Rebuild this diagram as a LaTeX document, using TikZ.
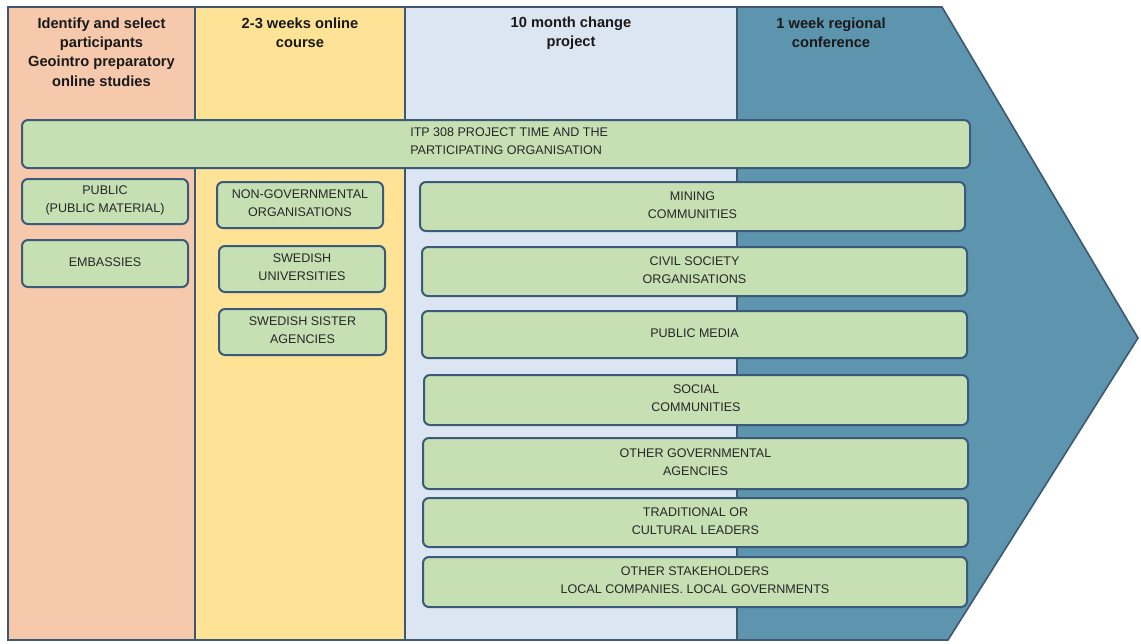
\documentclass[tikz,border=0pt]{standalone}
\usepackage{fontspec}
\setmainfont{Liberation Sans}
\definecolor{peach}{HTML}{F6C9AD}
\definecolor{ylw}{HTML}{FEE396}
\definecolor{lblue}{HTML}{DCE6F2}
\definecolor{tealc}{HTML}{5D95AE}
\definecolor{edge}{HTML}{3E5872}
\definecolor{boxfill}{HTML}{C6E0B4}
\definecolor{boxedge}{HTML}{3B5A7A}
\definecolor{txt}{HTML}{262626}
% \gbox{name}{x1}{y1}{x2}{y2}{text}
\newcommand\gbox[6]{%
  \node[gbox, minimum width={(#4-#2)*0.75pt}, minimum height={(#5-#3)*0.75pt}] (#1) at ({(#2+#4)/2},{(#3+#5)/2}) {};
  \node[boxtext] (#1t) at ([yshift=1pt]#1.center) {#6};}
\begin{document}
\begin{tikzpicture}[x=0.75pt,y=-0.75pt,
  col/.style={draw=edge, line width=1.2pt},
  gbox/.style={draw=boxedge, fill=boxfill, rounded corners=4.5pt, line width=1.5pt, inner sep=0pt},
  boxtext/.style={align=center, text=txt, inner sep=0pt, font=\fontsize{9.4}{13.5}\selectfont},
  head/.style={font=\fontsize{11}{14.5}\selectfont\bfseries, align=center, text=black!90}]
\useasboundingbox (0,0) rectangle (1141,643);
\fill[white] (0,0) rectangle (1141,643);
% columns
\draw[col, fill=tealc] (737,7) -- (942,7) -- (1138,338) -- (948,640) -- (737,640) -- cycle;
\draw[col, fill=peach] (8,7) rectangle (195,640);
\draw[col, fill=ylw] (195,7) rectangle (405,640);
\draw[col, fill=lblue] (405,7) rectangle (737,640);
% headers
\node[head] (h1) at (101.5,52) {Identify and select\\participants\\Geointro preparatory\\online studies};
\node[head] (h2) at (300,33) {2-3 weeks online\\course};
\node[head] (h3) at (571,33) {10 month change\\project};
\node[head] (h4) at (831,33) {1 week regional\\conference};
% long box
\gbox{itp}{22}{120}{970}{168}{}
\node[anchor=west, align=left, text=txt, inner sep=0pt, font=\fontsize{9.4}{13.5}\selectfont] (itpl) at (410,141) {ITP 308 PROJECT TIME AND THE\\PARTICIPATING ORGANISATION};
% column 1
\gbox{pub}{22}{179}{188}{224}{PUBLIC\\(PUBLIC MATERIAL)}
\gbox{emb}{22}{240}{188}{287}{EMBASSIES}
% column 2
\gbox{ngo}{217}{182}{383}{228}{NON-GOVERNMENTAL\\ORGANISATIONS}
\gbox{uni}{219}{246}{385}{292}{SWEDISH\\UNIVERSITIES}
\gbox{sis}{219}{309}{386}{355}{SWEDISH SISTER\\AGENCIES}
% columns 3/4
\gbox{min}{420}{182}{965}{231}{MINING\\COMMUNITIES}
\gbox{civ}{422}{247}{967}{296}{CIVIL SOCIETY\\ORGANISATIONS}
\gbox{med}{422}{311}{967}{358}{PUBLIC MEDIA}
\gbox{soc}{424}{375}{968}{425}{SOCIAL\\COMMUNITIES}
\gbox{gov}{423}{438}{968}{489}{OTHER GOVERNMENTAL\\AGENCIES}
\gbox{tra}{423}{498}{968}{547}{TRADITIONAL OR\\CULTURAL LEADERS}
\gbox{oth}{423}{557}{967}{607}{OTHER STAKEHOLDERS\\LOCAL COMPANIES. LOCAL GOVERNMENTS}
\end{tikzpicture}
\end{document}
